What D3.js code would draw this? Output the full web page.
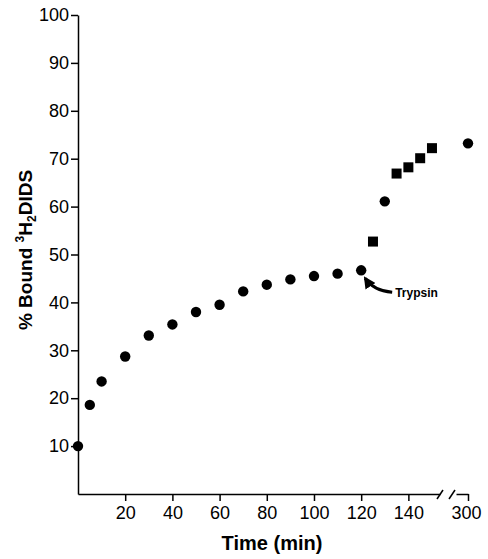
<!DOCTYPE html>
<html>
<head>
<meta charset="utf-8">
<script src="https://cdn.jsdelivr.net/npm/d3@7"></script>
<style>
  body { margin: 0; background: #fff; }
  svg { display: block; }
  .tick text { font-family: "Liberation Sans", Arial, sans-serif; }
</style>
</head>
<body>
<svg id="chart" width="488" height="559"></svg>
<script>
// data
const circleTimes = [0, 5, 10, 20, 30, 40, 50, 60, 70, 80, 90, 100, 110, 120, 130];
const circleValues = [10, 18.6, 23.5, 28.7, 33.1, 35.4, 38.0, 39.5, 42.3, 43.7, 44.8, 45.5, 46.0, 46.7, 61.1];
const squareTimes = [125, 135, 140, 145, 150];
const squareValues = [52.7, 66.9, 68.2, 70.1, 72.2];
const lateTimes = [300];
const lateValues = [73.2];
const xTicks = [20, 40, 60, 80, 100, 120, 140];
const xTicksLate = [300];
const yTicks = [10, 20, 30, 40, 50, 60, 70, 80, 90, 100];

const svg = d3.select("#chart");

// main time axis, then a short segment after the break for 300 min
const x = d3.scaleLinear().domain([0, 153.4]).range([78, 440]);
const xLate = d3.scaleLinear().domain([295, 300]).range([456, 468]);
const y = d3.scaleLinear().domain([0, 100]).range([494, 15]);
const xPos = t => t > 200 ? xLate(t) : x(t);

const font = '"Liberation Sans", Arial, sans-serif';

// y axis
const gy = svg.append("g")
  .attr("transform", `translate(${x(0)},0)`)
  .call(d3.axisLeft(y).tickValues(yTicks).tickSize(7).tickSizeOuter(0).tickPadding(2));
gy.selectAll("text").attr("font-size", 18).attr("fill", "#000");

// x axis (before break)
const gx = svg.append("g")
  .attr("transform", `translate(0,${y(0)})`)
  .call(d3.axisBottom(x).tickValues(xTicks).tickSize(7).tickSizeOuter(0).tickPadding(5));
gx.selectAll("text").attr("font-size", 18).attr("fill", "#000");

// x axis (after break)
const gx2 = svg.append("g")
  .attr("transform", `translate(0,${y(0)})`)
  .call(d3.axisBottom(xLate).tickValues(xTicksLate).tickFormat(d3.format("d"))
    .tickSize(7).tickSizeOuter(0).tickPadding(5));
gx2.selectAll("text").attr("font-size", 18).attr("fill", "#000").attr("dx", -2);

svg.selectAll(".domain, .tick line").attr("stroke", "#000").attr("stroke-width", 1.5);

// break marks
const y0 = y(0);
[[437, 443], [449, 455]].forEach(([a, b]) => {
  svg.append("line")
    .attr("x1", a).attr("y1", y0 + 5)
    .attr("x2", b).attr("y2", y0 - 4)
    .attr("stroke", "#000").attr("stroke-width", 1.5);
});

// points
svg.append("g").selectAll("circle")
  .data(circleTimes.map((t, i) => [t, circleValues[i]]).concat(lateTimes.map((t, i) => [t, lateValues[i]])))
  .join("circle")
  .attr("cx", d => xPos(d[0]))
  .attr("cy", d => y(d[1]))
  .attr("r", 5.2)
  .attr("fill", "#000");

const s = 10;
svg.append("g").selectAll("rect")
  .data(squareTimes.map((t, i) => [t, squareValues[i]]))
  .join("rect")
  .attr("x", d => xPos(d[0]) - s / 2)
  .attr("y", d => y(d[1]) - s / 2)
  .attr("width", s)
  .attr("height", s)
  .attr("fill", "#000");

// trypsin annotation
svg.append("defs").append("marker")
  .attr("id", "head")
  .attr("viewBox", "0 0 10 10")
  .attr("refX", 8).attr("refY", 5)
  .attr("markerWidth", 4).attr("markerHeight", 4)
  .attr("orient", "auto")
  .append("path").attr("d", "M0,0 L10,5 L0,10 Z").attr("fill", "#000");

const ax = x(120), ay = y(46.7);
svg.append("path")
  .attr("d", `M${ax + 31},${ay + 22} Q${ax + 12},${ay + 20} ${ax + 4},${ay + 8}`)
  .attr("fill", "none")
  .attr("stroke", "#000")
  .attr("stroke-width", 3)
  .attr("marker-end", "url(#head)");

svg.append("text")
  .attr("x", ax + 34).attr("y", ay + 27)
  .attr("font-family", font).attr("font-size", 12).attr("font-weight", "bold")
  .text("Trypsin");

// axis titles
svg.append("text")
  .attr("x", 272).attr("y", 550)
  .attr("text-anchor", "middle")
  .attr("font-family", font).attr("font-size", 20).attr("font-weight", "bold")
  .text("Time (min)");

const yt = svg.append("text")
  .attr("transform", "translate(32,250) rotate(-90)")
  .attr("text-anchor", "middle")
  .attr("font-family", font).attr("font-size", 19).attr("font-weight", "bold");
yt.append("tspan").text("% Bound ");
yt.append("tspan").attr("font-size", 12).attr("dy", -8).text("3");
yt.append("tspan").attr("dy", 8).text("H");
yt.append("tspan").attr("font-size", 12).attr("dy", 4).text("2");
yt.append("tspan").attr("dy", -4).text("DIDS");
</script>
</body>
</html>
